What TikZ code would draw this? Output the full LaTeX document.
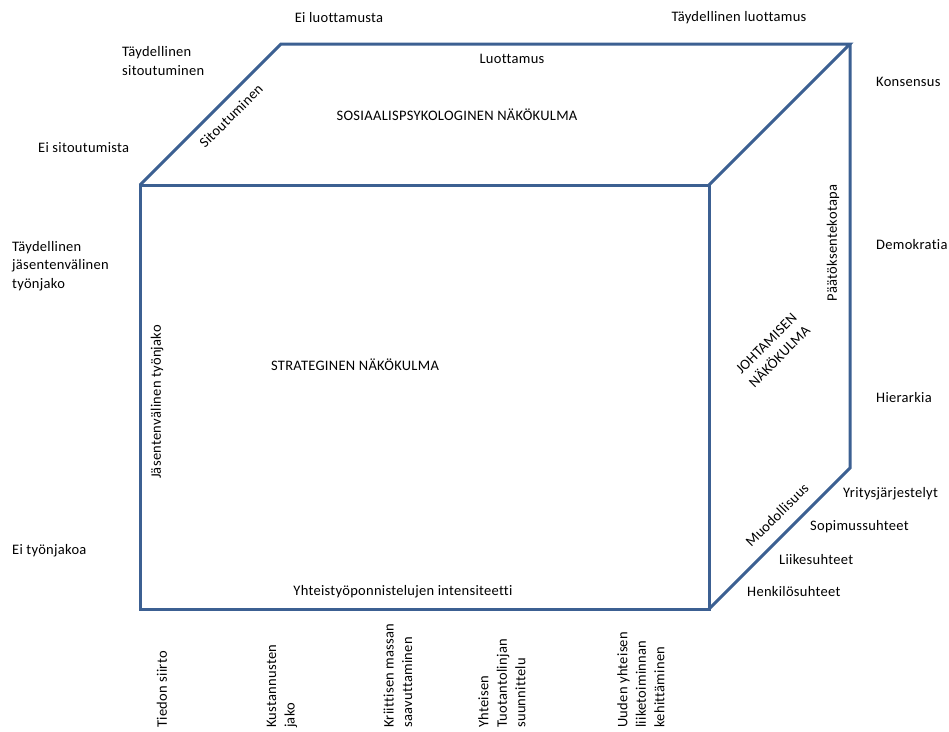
\documentclass[tikz,border=0pt]{standalone}
\usepackage{fontspec}
\setmainfont[LetterSpace=2,Ligatures=NoCommon]{Carlito}
\begin{document}
\begin{tikzpicture}[x=1pt,y=-1pt,
  edge/.style={draw=cubeblue,line width=3pt,line join=miter},
  lbl/.style={font=\fontsize{14.5}{18.5}\selectfont,inner sep=0pt},
  vlbl/.style={lbl,rotate=90,align=left,anchor=west}]
\definecolor{cubeblue}{RGB}{60,96,146}
\useasboundingbox (0,0) rectangle (949,731);
% cube corners
\coordinate (ftl) at (140,185);
\coordinate (ftr) at (709,185);
\coordinate (fbl) at (140,609);
\coordinate (fbr) at (709,609);
\coordinate (btl) at (281,44);
\coordinate (btr) at (850,44);
\coordinate (bbr) at (850,468);
% front face, top face, right face
\draw[edge] (ftl) -- (ftr) -- (fbr) -- (fbl) -- cycle;
\draw[edge] (ftl) -- (btl) -- (btr) -- (ftr);
\draw[edge] (btr) -- (bbr) -- (fbr);
% top face: trust and commitment
\node[lbl] (eiluot) at (339,18) {Ei luottamusta};
\node[lbl] (tayluot) at (739,18) {Täydellinen luottamus};
\node[lbl,align=left,anchor=west] (taysit) at (122,61) {Täydellinen\\sitoutuminen};
\node[lbl,anchor=west] (eisit) at (38,148) {Ei sitoutumista};
\node[lbl] (luot) at (512,59) {Luottamus};
\node[lbl] (sosi) at (457,115) {SOSIAALISPSYKOLOGINEN NÄKÖKULMA};
\node[lbl,rotate=45] (sitou) at (231,116) {Sitoutuminen};
% right face: decision making and formality
\node[lbl,anchor=west] (kons) at (876,82) {Konsensus};
\node[lbl,rotate=90] (paat) at (833,243) {Päätöksentekotapa};
\node[lbl,anchor=west] (demo) at (876,245) {Demokratia};
\node[lbl,anchor=west] (hier) at (876,398) {Hierarkia};
\node[lbl,rotate=45,align=center] (johta) at (773,350) {JOHTAMISEN\\NÄKÖKULMA};
\node[lbl,rotate=45] (muod) at (777,515) {Muodollisuus};
\node[lbl,anchor=west] (yrit) at (843,494) {Yritysjärjestelyt};
\node[lbl,anchor=west] (sopi) at (810,527) {Sopimussuhteet};
\node[lbl,anchor=west] (liik) at (779,560) {Liikesuhteet};
\node[lbl,anchor=west] (henk) at (747,592) {Henkilösuhteet};
% front face: division of labour and intensity
\node[lbl,align=left,anchor=north west] (tayjas) at (12,241) {Täydellinen\\jäsentenvälinen\\työnjako};
\node[lbl,rotate=90] (jasen) at (157,402) {Jäsentenvälinen työnjako};
\node[lbl] (strat) at (355,365) {STRATEGINEN NÄKÖKULMA};
\node[lbl,anchor=west] (eityo) at (12,551) {Ei työnjakoa};
\node[lbl] (yhteis) at (403,592) {Yhteistyöponnistelujen intensiteetti};
% intensity levels below the cube
\node[vlbl] (tied) at (162,728) {Tiedon siirto};
\node[vlbl] (kust) at (282,728) {Kustannusten\\jako};
\node[vlbl] (kriit) at (398,728) {Kriittisen massan\\saavuttaminen};
\node[vlbl] (tuot) at (502,728) {Yhteisen\\Tuotantolinjan\\suunnittelu};
\node[vlbl] (uuden) at (641,728) {Uuden yhteisen\\liiketoiminnan\\kehittäminen};
\end{tikzpicture}
\end{document}
